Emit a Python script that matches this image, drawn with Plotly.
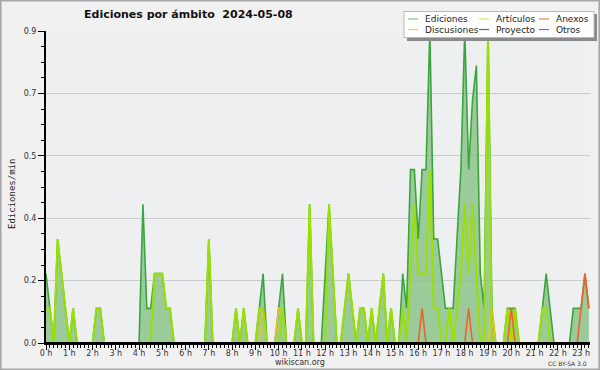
import plotly.graph_objects as go

# ---- data: 10-minute bins starting 00:00 (edits per minute) ----
n_bins = 141
bin_hours = [i / 6 for i in range(n_bins)]

def series(points):
    vals = [0.0] * n_bins
    for k, v in points.items():
        vals[k] = v
    return vals

ediciones = series({
    0: 0.2, 1: 0.1, 3: 0.3, 4: 0.2, 5: 0.1, 7: 0.1, 13: 0.1, 14: 0.1,
    25: 0.4, 26: 0.1, 27: 0.1, 28: 0.2, 29: 0.2, 30: 0.2, 31: 0.1, 32: 0.1,
    42: 0.3, 49: 0.1, 51: 0.1, 55: 0.1, 56: 0.2, 60: 0.1, 61: 0.2, 65: 0.1,
    68: 0.4, 72: 0.2, 73: 0.4, 74: 0.2, 77: 0.1, 78: 0.2, 79: 0.1, 81: 0.1,
    82: 0.1, 84: 0.1, 86: 0.1, 87: 0.2, 89: 0.1, 92: 0.2, 93: 0.1, 94: 0.5,
    95: 0.5, 96: 0.3, 97: 0.5, 98: 0.5, 99: 0.9, 100: 0.3, 101: 0.3, 102: 0.2,
    103: 0.1, 104: 0.1, 105: 0.1, 106: 0.3, 107: 0.5, 108: 0.9, 109: 0.5,
    110: 0.7, 111: 0.8, 112: 0.2, 113: 0.1, 114: 0.9, 115: 0.1, 119: 0.1,
    120: 0.1, 121: 0.1, 128: 0.1, 129: 0.2, 130: 0.1, 136: 0.1, 137: 0.1,
    138: 0.1, 139: 0.2, 140: 0.1,
})
discusiones = series({56: 0.1, 60: 0.1, 61: 0.1, 115: 0.1})
articulos = series({
    0: 0.1, 1: 0.1, 3: 0.3, 4: 0.2, 5: 0.1, 7: 0.1, 13: 0.1, 14: 0.1,
    28: 0.2, 29: 0.2, 30: 0.2, 31: 0.1, 32: 0.1, 42: 0.3, 49: 0.1, 51: 0.1,
    55: 0.1, 56: 0.1, 61: 0.1, 65: 0.1, 68: 0.4, 73: 0.4, 74: 0.2, 77: 0.1,
    78: 0.2, 79: 0.1, 81: 0.1, 82: 0.1, 84: 0.1, 86: 0.1, 87: 0.2, 89: 0.1,
    92: 0.1, 94: 0.2, 95: 0.4, 96: 0.2, 97: 0.2, 98: 0.2, 99: 0.5, 100: 0.1,
    101: 0.1, 104: 0.1, 106: 0.1, 107: 0.2, 108: 0.4, 109: 0.2, 110: 0.4,
    111: 0.2, 114: 0.9, 119: 0.1, 121: 0.1, 128: 0.1, 129: 0.1,
})
proyecto = series({})
anexos = series({97: 0.1, 109: 0.1, 120: 0.1, 138: 0.1, 139: 0.2, 140: 0.1})
otros = series({})

hour_ticks = list(range(24))
hour_labels = [f"{h} h" for h in hour_ticks]
y_ticks = [0, 0.18, 0.36, 0.54, 0.72, 0.9]
y_labels = [f"{v:.1f}" for v in y_ticks]

# ---- layout geometry (pixels) ----
W, H = 600, 370
L, R, T, B = 46, 10, 31, 27
PW, PH = W - L - R, H - T - B

def px(x):
    return (x - L) / PW

def py(y):
    return (H - B - y) / PH

fig = go.Figure()
fig.add_trace(go.Scatter(x=bin_hours, y=ediciones, mode="lines", name="Ediciones",
                         line=dict(color="#3ba63b", width=1.6), fill="tozeroy",
                         fillcolor="rgba(140,196,140,0.85)", showlegend=False))
fig.add_trace(go.Scatter(x=bin_hours, y=discusiones, mode="lines", name="Discusiones",
                         line=dict(color="#f2c21b", width=1.6), showlegend=False))
fig.add_trace(go.Scatter(x=bin_hours, y=articulos, mode="lines", name="Artículos",
                         line=dict(color="#9be000", width=2), showlegend=False))
fig.add_trace(go.Scatter(x=bin_hours, y=proyecto, mode="lines", name="Proyecto",
                         line=dict(color="#555555", width=1.5), showlegend=False))
fig.add_trace(go.Scatter(x=bin_hours, y=anexos, mode="lines", name="Anexos",
                         line=dict(color="#f0622a", width=1.6), showlegend=False))
fig.add_trace(go.Scatter(x=bin_hours, y=otros, mode="lines", name="Otros",
                         line=dict(color="#a040f0", width=1.5), showlegend=False))

shapes = []
annotations = []
# outer border
shapes.append(dict(type="rect", xref="paper", yref="paper", x0=px(0.8), x1=px(599.2),
                   y0=py(369.2), y1=py(0.8), line=dict(color="#a8a8a8", width=1.6),
                   layer="below"))
# baseline drawn over the zero-valued line segments (as the axis does in the original)
shapes.append(dict(type="line", xref="paper", yref="paper", x0=px(L - 1), x1=px(W - R),
                   y0=py(H - B + 0.5), y1=py(H - B + 0.5),
                   line=dict(color="#000000", width=3), layer="above"))
# legend box with shadow
shapes.append(dict(type="rect", xref="paper", yref="paper", x0=px(407), x1=px(597),
                   y0=py(41), y1=py(14), fillcolor="#8a8a8a", line=dict(width=0),
                   layer="above"))
shapes.append(dict(type="rect", xref="paper", yref="paper", x0=px(404), x1=px(594),
                   y0=py(37.5), y1=py(11.5), fillcolor="#ffffff",
                   line=dict(color="#b8b8b8", width=1), layer="above"))
legend_items = [
    ("Ediciones", "#7ccc7c", 408, 19),
    ("Discusiones", "#f5cf45", 408, 29.5),
    ("Artículos", "#c8f060", 479, 19),
    ("Proyecto", "#666666", 479, 29.5),
    ("Anexos", "#f08050", 539, 19),
    ("Otros", "#a050f0", 539, 29.5),
]
for name, col, x0, yc in legend_items:
    shapes.append(dict(type="line", xref="paper", yref="paper", x0=px(x0), x1=px(x0 + 10),
                       y0=py(yc), y1=py(yc), line=dict(color=col, width=1.2), layer="above"))
    annotations.append(dict(text=name, xref="paper", yref="paper", x=px(x0 + 15), y=py(yc),
                            xanchor="left", yanchor="middle", showarrow=False,
                            font=dict(family="DejaVu Sans", size=9, color="#222222")))

annotations.append(dict(text="<b>Ediciones por ámbito  2024-05-08</b>", xref="paper",
                        yref="paper", x=px(188.5), y=py(15), xanchor="center",
                        yanchor="middle", showarrow=False,
                        font=dict(family="DejaVu Sans", size=11, color="#111111")))
annotations.append(dict(text="Ediciones/min", xref="paper", yref="paper", x=px(12),
                        y=py(194), xanchor="center", yanchor="middle", textangle=-90,
                        showarrow=False,
                        font=dict(family="DejaVu Sans Mono", size=9, color="#222222")))
annotations.append(dict(text="wikiscan.org", xref="paper", yref="paper", x=px(300),
                        y=py(362), xanchor="center", yanchor="middle", showarrow=False,
                        font=dict(family="DejaVu Sans", size=8, color="#333333")))
annotations.append(dict(text="CC BY-SA 3.0", xref="paper", yref="paper", x=px(589),
                        y=py(363), xanchor="right", yanchor="middle", showarrow=False,
                        font=dict(family="DejaVu Sans", size=6, color="#333333")))

fig.update_layout(
    width=W, height=H, margin=dict(l=L, r=R, t=T, b=B, pad=0, autoexpand=False),
    paper_bgcolor="#f1f1f1", plot_bgcolor="#eeeff1", showlegend=False,
    shapes=shapes, annotations=annotations,
    xaxis=dict(range=[0, 140.3 / 6], tickvals=hour_ticks, ticktext=hour_labels,
               ticks="outside", ticklen=5, tickwidth=1, tickcolor="#000000",
               ticklabelstandoff=-4,
               showline=True, linecolor="#000000", linewidth=2, showgrid=False,
               zeroline=False, layer="above traces",
               tickfont=dict(family="DejaVu Sans", size=8, color="#333333"),
               minor=dict(dtick=1 / 6, tick0=0, ticks="outside", ticklen=3,
                          tickcolor="#000000", tickwidth=1, showgrid=False),
               fixedrange=True),
    yaxis=dict(range=[0, 0.9], tickvals=y_ticks, ticktext=y_labels,
               ticks="outside", ticklen=6, tickwidth=1, tickcolor="#000000",
               showline=True, linecolor="#000000", linewidth=2, showgrid=True,
               gridcolor="#cbcbcb", gridwidth=1, zeroline=False, layer="above traces",
               tickfont=dict(family="DejaVu Sans", size=8, color="#333333"),
               minor=dict(dtick=0.045, tick0=0, ticks="outside", ticklen=3,
                          tickcolor="#000000", tickwidth=1, showgrid=False),
               fixedrange=True),
)

fig.write_html("out.html", config={"displayModeBar": False},
               post_script="document.body.style.margin='0';document.body.style.overflow='hidden';")
